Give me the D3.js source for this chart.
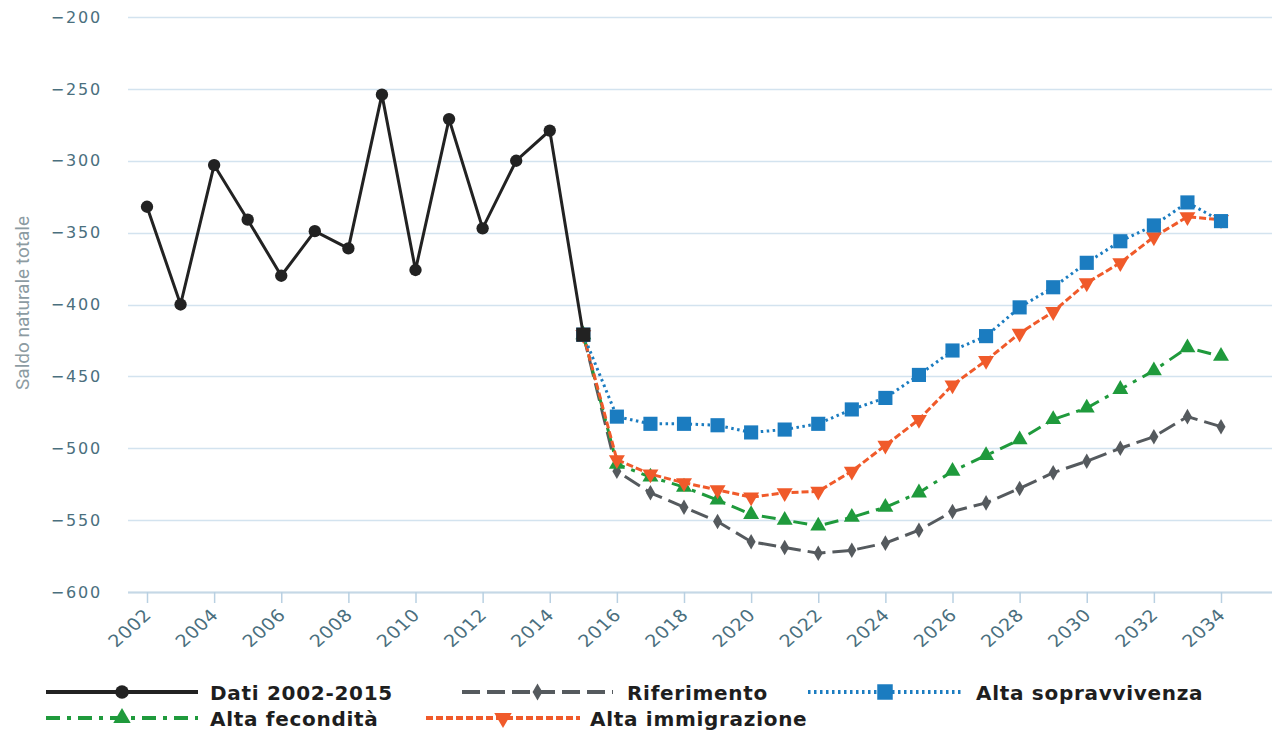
<!DOCTYPE html>
<html>
<head>
<meta charset="utf-8">
<script src="https://cdn.jsdelivr.net/npm/d3@7"></script>
<style>
  body { margin: 0; background: #fff; }
  svg { display: block; }
</style>
</head>
<body>
<svg id="chart"></svg>
<script>
// dati
var anniDati = d3.range(2002, 2016);
var valoriDati = [-332, -400, -303, -341, -380, -349, -361, -254, -376, -271, -347, -300, -279, -421];

var anniProiezione = d3.range(2015, 2035);
var riferimento = [-421, -516, -531, -541, -551, -565, -569, -573, -571, -566, -557, -544, -538, -528, -517, -509, -500, -492, -478, -485];
var altaFecondita = [-421, -511, -520, -527, -536, -546, -550, -554, -548, -541, -531, -516, -505, -494, -480, -472, -459, -446, -430, -436];
var altaImmigrazione = [-421, -508, -518, -524, -529, -534, -531, -530, -516, -498, -480, -456, -439, -420, -405, -385, -371, -353, -339, -341];
var altaSopravvivenza = [-421, -478, -483, -483, -484, -489, -487, -483, -473, -465, -449, -432, -422, -402, -388, -371, -356, -345, -329, -342];

var tickAnni = d3.range(2002, 2035, 2);
var tickValori = d3.range(-600, -199, 50);

var W = 1276, H = 731;
var svg = d3.select("#chart").attr("width", W).attr("height", H);

var x = d3.scaleLinear().domain([2002, 2034]).range([147, 1221]);
var y = d3.scaleLinear().domain([-600, -200]).range([592, 17]);

// griglia
svg.append("g")
  .selectAll("line")
  .data(tickValori)
  .enter()
  .append("line")
  .attr("x1", 128)
  .attr("x2", 1272)
  .attr("y1", function(d){ return Math.round(y(d)) + 0.5; })
  .attr("y2", function(d){ return Math.round(y(d)) + 0.5; })
  .attr("stroke", "#d3e3ef")
  .attr("stroke-width", 1.5);

// asse y
var yAxis = d3.axisLeft(y)
  .tickValues(tickValori)
  .tickSize(0)
  .tickPadding(0)
  .tickFormat(function(d){ return "\u2212" + Math.abs(d); });

var gy = svg.append("g")
  .attr("transform", "translate(102,0)")
  .call(yAxis);
gy.select(".domain").remove();
gy.selectAll("text")
  .attr("font-family", "DejaVu Sans")
  .attr("font-size", 16)
  .attr("letter-spacing", 1.8)
  .attr("fill", "#4a6f7e");

svg.append("text")
  .attr("transform", "translate(29,303) rotate(-90)")
  .attr("text-anchor", "middle")
  .attr("font-family", "Roboto")
  .attr("font-size", 19)
  .attr("fill", "#8c9ba2")
  .text("Saldo naturale totale");

// asse x
var xAxis = d3.axisBottom(x)
  .tickValues(tickAnni)
  .tickSize(11)
  .tickSizeOuter(0)
  .tickFormat(d3.format("d"));

var gx = svg.append("g")
  .attr("transform", "translate(0,592)")
  .call(xAxis);
gx.select(".domain")
  .attr("d", "M128,0.5H1272")
  .attr("stroke", "#c5d8e6")
  .attr("stroke-width", 2);
gx.selectAll(".tick line").attr("stroke", "#b9d0e2").attr("stroke-width", 1.5);
gx.selectAll("text")
  .attr("font-family", "DejaVu Sans")
  .attr("font-size", 17)
  .attr("letter-spacing", 0.6)
  .attr("fill", "#4a6f7e")
  .attr("text-anchor", "end")
  .attr("y", 0)
  .attr("dy", 0)
  .attr("transform", "translate(5,24) scale(1.12,1) rotate(-45)");

// serie
var serie = [
  { nome: "Riferimento", anni: anniProiezione, valori: riferimento, colore: "#555a5e", dash: "18,7", marker: "diamond", ms: 70 },
  { nome: "Alta fecondità", anni: anniProiezione, valori: altaFecondita, colore: "#1f9a3c", dash: "14,7,4,7", marker: "triangle", ms: 110 },
  { nome: "Alta immigrazione", anni: anniProiezione, valori: altaImmigrazione, colore: "#f05a2a", dash: "7,3", marker: "triangledown", ms: 110 },
  { nome: "Alta sopravvivenza", anni: anniProiezione, valori: altaSopravvivenza, colore: "#1b7cc0", dash: "2.5,3.5", marker: "square", ms: 200 },
  { nome: "Dati 2002-2015", anni: anniDati, valori: valoriDati, colore: "#222222", dash: null, marker: "circle", ms: 120 }
];

var simboli = {
  diamond: d3.symbolDiamond,
  triangle: d3.symbolTriangle,
  square: d3.symbolSquare,
  circle: d3.symbolCircle
};

function simbolo(tipo, size) {
  if (tipo === "triangledown") {
    return { path: d3.symbol(d3.symbolTriangle, size)(), rot: 180 };
  }
  return { path: d3.symbol(simboli[tipo], size)(), rot: 0 };
}

var line = d3.line()
  .x(function(d){ return x(d[0]); })
  .y(function(d){ return y(d[1]); });

serie.forEach(function(s){
  var pts = s.anni.map(function(a, i){ return [a, s.valori[i]]; });
  var g = svg.append("g");
  g.append("path")
    .datum(pts)
    .attr("d", line)
    .attr("fill", "none")
    .attr("stroke", s.colore)
    .attr("stroke-width", 3)
    .attr("stroke-dasharray", s.dash);
  var sym = simbolo(s.marker, s.ms);
  g.selectAll(".m")
    .data(pts)
    .enter()
    .append("path")
    .attr("d", function(d){
      // il 2015 dei dati è un quadrato
      if (s.marker === "circle" && d[0] === 2015) return d3.symbol(d3.symbolSquare, 200)();
      return sym.path;
    })
    .attr("transform", function(d){ return "translate(" + x(d[0]) + "," + y(d[1]) + ") rotate(" + sym.rot + ")"; })
    .attr("fill", s.colore);
});

// legenda
var legenda = [
  { s: 4, x1: 46, x2: 198, tx: 210, ly: 692 },
  { s: 0, x1: 462, x2: 613, tx: 627, ly: 692 },
  { s: 3, x1: 808, x2: 962, tx: 976, ly: 692 },
  { s: 1, x1: 46, x2: 198, tx: 210, ly: 718 },
  { s: 2, x1: 426, x2: 580, tx: 590, ly: 718 }
];

legenda.forEach(function(l){
  var s = serie[l.s];
  var g = svg.append("g");
  g.append("line")
    .attr("x1", l.x1).attr("x2", l.x2)
    .attr("y1", l.ly).attr("y2", l.ly)
    .attr("stroke", s.colore)
    .attr("stroke-width", 4)
    .attr("stroke-dasharray", s.dash);
  var sym = simbolo(s.marker, s.ms * 1.2);
  g.append("path")
    .attr("d", sym.path)
    .attr("transform", "translate(" + ((l.x1 + l.x2) / 2) + "," + l.ly + ") rotate(" + sym.rot + ")")
    .attr("fill", s.colore);
  g.append("text")
    .attr("x", l.tx)
    .attr("y", l.ly + 8)
    .attr("font-family", "DejaVu Sans")
    .attr("font-weight", "bold")
    .attr("font-size", 20)
    .attr("letter-spacing", 0.7)
    .attr("fill", "#1e1e1e")
    .text(s.nome);
});
</script>
</body>
</html>
